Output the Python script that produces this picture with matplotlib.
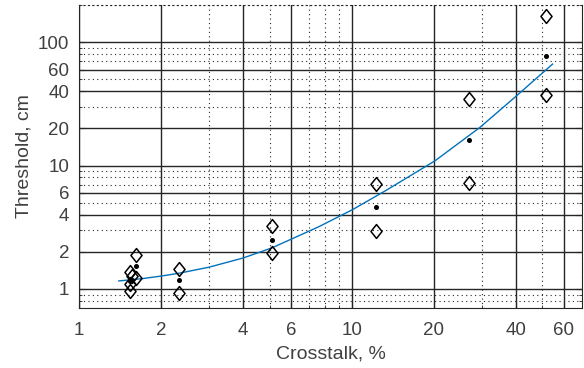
import numpy as np
import matplotlib.pyplot as plt
from matplotlib.path import Path
from matplotlib.ticker import FixedLocator, NullFormatter

plt.rcParams['font.family'] = ['Liberation Sans', 'DejaVu Sans']

# diamonds (upper / lower estimates)
diam_x = [1.62, 1.62, 1.54, 1.54, 1.56, 1.54,
          2.33, 2.33, 5.11, 5.11, 12.3, 12.3, 26.9, 26.9, 51.7, 51.7]
diam_y = [1.89, 1.23, 1.38, 0.96, 1.27, 1.10,
          1.45, 0.93, 3.21, 1.97, 7.10, 2.96, 34.9, 7.24, 162.0, 37.1]

# central values (black dots)
dot_x = [1.62, 1.54, 1.56, 2.33, 5.11, 12.3, 26.9, 51.7]
dot_y = [1.52, 1.15, 1.18, 1.17, 2.47, 4.62, 16.0, 77.4]

# fitted curve
fit_x = [1.40, 1.70, 2.0, 2.33, 3.0, 4.0, 5.1, 7.6, 10.1, 13.4, 20.2,
         29.5, 40.2, 54.6]
fit_y = [1.16, 1.21, 1.27, 1.34, 1.50, 1.78, 2.15, 3.2, 4.4, 6.3, 10.9,
         20.3, 36.6, 66.4]

x_major = [1, 2, 4, 6, 10, 20, 40, 60]
x_minor = [3, 5, 7, 8, 9, 30, 50, 70]
y_major = [1, 2, 4, 6, 10, 20, 40, 60, 100]
y_minor = [0.7, 0.8, 0.9, 3, 5, 7, 8, 9, 30, 50, 70, 80, 90, 200]

diamond = Path([(0, 1), (0.8, 0), (0, -1), (-0.8, 0), (0, 1)],
               [Path.MOVETO, Path.LINETO, Path.LINETO, Path.LINETO,
                Path.CLOSEPOLY])

fig = plt.figure(figsize=(5.84, 3.68), dpi=100)
ax = fig.add_axes([79 / 584, 1 - 308 / 368, 503 / 584, 303 / 368])

ax.plot(fit_x, fit_y, color='#0072BD', lw=1.0, zorder=3)
ax.plot(diam_x, diam_y, ls='none', marker=diamond, ms=10, mfc='none',
        mec='black', mew=1.1, zorder=4)
ax.plot(dot_x, dot_y, ls='none', marker='o', ms=2.6, color='black', zorder=4)

ax.set_xscale('log')
ax.set_yscale('log')
ax.set_xlim(1, 70)
ax.set_ylim(0.7, 200)

ax.xaxis.set_major_locator(FixedLocator(x_major))
ax.xaxis.set_minor_locator(FixedLocator(x_minor))
ax.yaxis.set_major_locator(FixedLocator(y_major))
ax.yaxis.set_minor_locator(FixedLocator(y_minor))
ax.set_xticklabels([str(v) for v in x_major])
ax.set_yticklabels([str(v) for v in y_major])
ax.xaxis.set_minor_formatter(NullFormatter())
ax.yaxis.set_minor_formatter(NullFormatter())

ax.grid(True, which='major', color='#262626', lw=1.0, ls='-')
ax.grid(True, which='minor', color='#262626', lw=0.8, ls=(0, (1, 3)))
ax.set_axisbelow(True)

ax.tick_params(which='both', direction='in', right=True, top=False,
               labelsize=13.5, colors='#262626', labelcolor='#404040')
ax.tick_params(axis='x', which='major', pad=10)
ax.tick_params(axis='y', which='major', pad=7)
ax.tick_params(which='major', length=4, width=0.8)
ax.tick_params(which='minor', length=2.5, width=0.6)

for side in ['left', 'bottom', 'right']:
    ax.spines[side].set_color('#262626')
    ax.spines[side].set_linewidth(0.8)
ax.spines['top'].set_linestyle((0, (1, 3)))
ax.spines['top'].set_color('#262626')

ax.set_xlabel('Crosstalk, %', fontsize=14, color='#404040', labelpad=5)
ax.set_ylabel('Threshold, cm', fontsize=14, color='#404040', labelpad=4)

fig.savefig('out.png', dpi=100)
